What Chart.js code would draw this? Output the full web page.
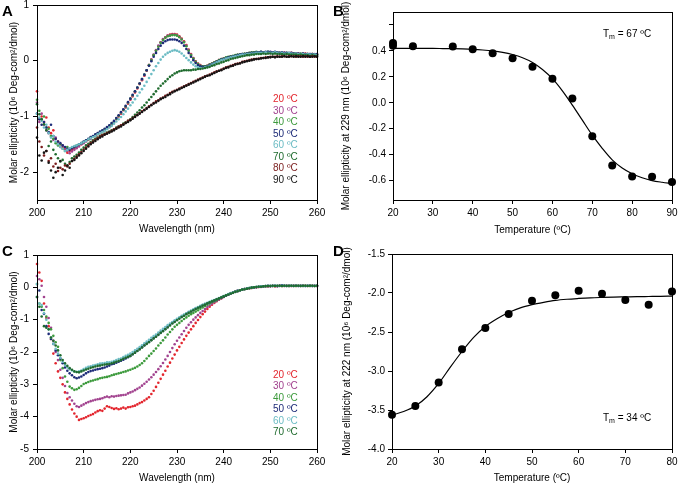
<!DOCTYPE html>
<html><head><meta charset="utf-8">
<script src="https://cdn.jsdelivr.net/npm/chart.js@4.4.1/dist/chart.umd.min.js"></script>
<style>
html,body{margin:0;padding:0;background:#fff;}
#wrap{position:relative;width:681px;height:484px;overflow:hidden;background:#fff;}
#wrap canvas{position:absolute;}
.lbl{position:absolute;font:bold 15px 'Liberation Sans',Arial,sans-serif;line-height:15px;color:#000;z-index:2;}
</style></head><body>
<div id="wrap">
<canvas id="cA" width="340" height="240" style="left:0;top:0;width:340px;height:240px"></canvas>
<canvas id="cB" width="341" height="240" style="left:340px;top:0;width:341px;height:240px"></canvas>
<canvas id="cC" width="340" height="244" style="left:0;top:240px;width:340px;height:244px"></canvas>
<canvas id="cD" width="341" height="244" style="left:340px;top:240px;width:341px;height:244px"></canvas>
<div class="lbl" style="left:2px;top:3px">A</div>
<div class="lbl" style="left:333px;top:3px">B</div>
<div class="lbl" style="left:2px;top:243px">C</div>
<div class="lbl" style="left:333px;top:243px">D</div>
</div>
<script>
// ---------- data ----------
const WAVELENGTHS = Array.from({length: 121}, (_, i) => 200 + i * 0.5);

const A_LABELS = ['20 ºC','30 ºC','40 ºC','50 ºC','60 ºC','70 ºC','80 ºC','90 ºC'];
const A_COLORS = ['#e3262e','#a2438f','#3c9a3c','#1d2b78','#6cbcc4','#1f6b2e','#7a1c1c','#141414'];

const A_20C = [
-0.55,-1.05,-1.00,-1.10,-1.02,-1.20,-1.30,-1.25,-1.40,-1.45,
-1.50,-1.55,-1.59,-1.65,-1.62,-1.60,-1.58,-1.55,-1.52,-1.50,
-1.47,-1.44,-1.42,-1.39,-1.37,-1.34,-1.32,-1.30,-1.27,-1.25,
-1.22,-1.19,-1.15,-1.10,-1.05,-1.00,-0.95,-0.89,-0.84,-0.77,
-0.70,-0.64,-0.57,-0.50,-0.42,-0.35,-0.27,-0.18,-0.08,0.02,
0.10,0.18,0.26,0.33,0.38,0.42,0.45,0.47,0.48,0.48,
0.47,0.44,0.40,0.35,0.28,0.20,0.12,0.05,-0.01,-0.05,
-0.08,-0.10,-0.10,-0.09,-0.07,-0.05,-0.03,-0.01,0.01,0.02,
0.04,0.05,0.06,0.07,0.08,0.09,0.10,0.11,0.11,0.12,
0.13,0.13,0.14,0.14,0.14,0.15,0.14,0.15,0.15,0.14,
0.15,0.14,0.15,0.14,0.13,0.14,0.14,0.13,0.13,0.14,
0.12,0.13,0.13,0.12,0.12,0.13,0.12,0.11,0.12,0.11,
0.11];
const A_30C = [
-0.75,-1.10,-0.95,-1.15,-1.25,-1.30,-1.35,-1.42,-1.38,-1.50,
-1.55,-1.52,-1.60,-1.62,-1.66,-1.63,-1.60,-1.57,-1.54,-1.50,
-1.48,-1.45,-1.41,-1.40,-1.36,-1.35,-1.31,-1.29,-1.27,-1.24,
-1.21,-1.18,-1.14,-1.10,-1.04,-0.99,-0.94,-0.88,-0.83,-0.76,
-0.69,-0.63,-0.56,-0.49,-0.41,-0.34,-0.26,-0.17,-0.08,0.02,
0.11,0.19,0.27,0.33,0.39,0.42,0.45,0.46,0.47,0.47,
0.46,0.43,0.39,0.34,0.27,0.19,0.11,0.04,-0.02,-0.06,
-0.09,-0.10,-0.10,-0.09,-0.07,-0.05,-0.03,-0.01,0.01,0.03,
0.04,0.05,0.06,0.08,0.08,0.09,0.10,0.11,0.12,0.12,
0.13,0.14,0.14,0.14,0.15,0.15,0.15,0.14,0.15,0.15,
0.14,0.15,0.14,0.14,0.14,0.13,0.14,0.13,0.14,0.13,
0.13,0.12,0.13,0.12,0.13,0.12,0.12,0.12,0.11,0.12,
0.11];
const A_40C = [
-0.70,-0.90,-1.05,-1.00,-1.20,-1.22,-1.35,-1.40,-1.48,-1.52,
-1.50,-1.58,-1.62,-1.55,-1.58,-1.56,-1.55,-1.52,-1.50,-1.48,
-1.46,-1.43,-1.41,-1.38,-1.36,-1.33,-1.31,-1.28,-1.26,-1.23,
-1.20,-1.17,-1.13,-1.09,-1.04,-0.99,-0.93,-0.88,-0.82,-0.75,
-0.68,-0.62,-0.55,-0.48,-0.41,-0.33,-0.25,-0.17,-0.08,0.01,
0.10,0.18,0.25,0.32,0.37,0.41,0.44,0.45,0.46,0.46,
0.45,0.42,0.38,0.33,0.26,0.18,0.10,0.04,-0.02,-0.06,
-0.09,-0.10,-0.10,-0.09,-0.07,-0.05,-0.03,-0.01,0.01,0.03,
0.04,0.06,0.07,0.08,0.09,0.10,0.11,0.11,0.12,0.13,
0.13,0.14,0.15,0.15,0.16,0.15,0.16,0.15,0.15,0.16,
0.15,0.15,0.14,0.15,0.14,0.14,0.13,0.14,0.13,0.13,
0.13,0.13,0.12,0.13,0.12,0.12,0.12,0.11,0.12,0.11,
0.11];
const A_50C = [
-0.95,-1.05,-1.15,-1.10,-1.20,-1.28,-1.15,-1.35,-1.40,-1.45,
-1.48,-1.52,-1.55,-1.58,-1.60,-1.57,-1.55,-1.53,-1.50,-1.48,
-1.45,-1.43,-1.40,-1.37,-1.35,-1.32,-1.30,-1.27,-1.25,-1.22,
-1.19,-1.16,-1.12,-1.08,-1.03,-0.98,-0.92,-0.87,-0.81,-0.74,
-0.68,-0.61,-0.55,-0.48,-0.41,-0.33,-0.25,-0.17,-0.09,-0.01,
0.07,0.14,0.21,0.27,0.32,0.35,0.37,0.38,0.38,0.38,
0.37,0.35,0.32,0.27,0.21,0.14,0.07,0.01,-0.04,-0.08,
-0.10,-0.11,-0.11,-0.10,-0.08,-0.06,-0.04,-0.02,0.00,0.02,
0.03,0.05,0.06,0.07,0.08,0.09,0.10,0.11,0.12,0.12,
0.13,0.13,0.14,0.14,0.15,0.15,0.16,0.15,0.16,0.16,
0.16,0.15,0.16,0.15,0.14,0.15,0.14,0.14,0.13,0.14,
0.13,0.13,0.13,0.12,0.13,0.12,0.12,0.12,0.12,0.11,
0.12];
const A_60C = [
-0.95,-1.02,-1.08,-1.20,-1.15,-1.30,-1.38,-1.35,-1.45,-1.50,
-1.55,-1.58,-1.62,-1.60,-1.57,-1.55,-1.53,-1.52,-1.50,-1.48,
-1.46,-1.44,-1.41,-1.39,-1.37,-1.35,-1.32,-1.30,-1.28,-1.26,
-1.23,-1.20,-1.17,-1.13,-1.09,-1.05,-1.01,-0.96,-0.91,-0.86,
-0.80,-0.75,-0.69,-0.63,-0.57,-0.51,-0.45,-0.38,-0.31,-0.24,
-0.17,-0.10,-0.04,0.02,0.07,0.11,0.14,0.16,0.18,0.19,
0.18,0.16,0.13,0.09,0.05,0.01,-0.03,-0.07,-0.10,-0.12,
-0.13,-0.13,-0.12,-0.11,-0.09,-0.07,-0.05,-0.03,-0.01,0.01,
0.02,0.04,0.05,0.06,0.07,0.08,0.09,0.10,0.11,0.11,
0.12,0.12,0.13,0.13,0.14,0.14,0.14,0.14,0.15,0.14,
0.14,0.14,0.15,0.14,0.13,0.14,0.13,0.13,0.14,0.13,
0.12,0.13,0.12,0.12,0.12,0.11,0.12,0.11,0.11,0.11,
0.10];
const A_70C = [
-0.78,-0.96,-1.05,-1.14,-1.25,-1.53,-1.45,-1.60,-1.68,-1.75,
-1.81,-1.78,-1.85,-1.88,-1.82,-1.75,-1.72,-1.69,-1.65,-1.60,
-1.56,-1.52,-1.49,-1.46,-1.43,-1.40,-1.38,-1.35,-1.33,-1.31,
-1.29,-1.27,-1.25,-1.23,-1.20,-1.18,-1.16,-1.13,-1.11,-1.08,
-1.05,-1.01,-0.97,-0.93,-0.89,-0.84,-0.80,-0.75,-0.70,-0.65,
-0.60,-0.55,-0.50,-0.45,-0.41,-0.37,-0.33,-0.29,-0.26,-0.23,
-0.21,-0.19,-0.18,-0.17,-0.17,-0.17,-0.17,-0.16,-0.16,-0.15,
-0.15,-0.14,-0.13,-0.12,-0.11,-0.09,-0.08,-0.06,-0.05,-0.03,
-0.02,0.00,0.01,0.03,0.04,0.05,0.06,0.07,0.08,0.09,
0.10,0.10,0.11,0.11,0.12,0.12,0.12,0.13,0.12,0.13,
0.13,0.12,0.13,0.12,0.12,0.12,0.11,0.12,0.11,0.11,
0.11,0.11,0.10,0.11,0.10,0.10,0.10,0.09,0.10,0.09,
0.09];
const A_80C = [
-1.20,-1.45,-1.55,-1.70,-1.62,-1.80,-1.75,-1.90,-1.85,-1.98,
-1.92,-1.95,-1.88,-1.90,-1.85,-1.80,-1.76,-1.72,-1.68,-1.64,
-1.60,-1.56,-1.52,-1.48,-1.45,-1.42,-1.39,-1.36,-1.34,-1.32,
-1.30,-1.28,-1.26,-1.23,-1.21,-1.18,-1.16,-1.14,-1.11,-1.08,
-1.06,-1.03,-1.00,-0.97,-0.94,-0.91,-0.88,-0.85,-0.82,-0.79,
-0.76,-0.73,-0.71,-0.68,-0.66,-0.63,-0.61,-0.58,-0.56,-0.54,
-0.52,-0.50,-0.48,-0.46,-0.44,-0.42,-0.40,-0.38,-0.36,-0.34,
-0.32,-0.30,-0.28,-0.27,-0.25,-0.23,-0.21,-0.19,-0.18,-0.16,
-0.14,-0.12,-0.11,-0.09,-0.08,-0.06,-0.05,-0.04,-0.02,-0.01,
0.00,0.01,0.02,0.03,0.03,0.04,0.05,0.05,0.06,0.06,
0.07,0.07,0.07,0.08,0.07,0.08,0.08,0.07,0.08,0.08,
0.08,0.07,0.08,0.08,0.07,0.08,0.07,0.07,0.08,0.07,
0.07];
const A_90C = [
-1.38,-1.70,-1.79,-1.65,-1.62,-1.83,-1.97,-2.10,-2.00,-1.92,
-1.80,-2.05,-1.97,-1.88,-1.92,-1.80,-1.78,-1.74,-1.70,-1.66,
-1.62,-1.58,-1.54,-1.50,-1.47,-1.44,-1.41,-1.38,-1.36,-1.33,
-1.31,-1.29,-1.27,-1.25,-1.22,-1.20,-1.18,-1.15,-1.12,-1.10,
-1.07,-1.04,-1.01,-0.98,-0.95,-0.92,-0.89,-0.86,-0.83,-0.80,
-0.77,-0.75,-0.72,-0.69,-0.67,-0.65,-0.62,-0.60,-0.57,-0.55,
-0.53,-0.51,-0.49,-0.47,-0.45,-0.43,-0.41,-0.39,-0.37,-0.35,
-0.33,-0.31,-0.29,-0.27,-0.26,-0.24,-0.22,-0.20,-0.18,-0.17,
-0.15,-0.13,-0.12,-0.10,-0.09,-0.07,-0.06,-0.05,-0.03,-0.02,
-0.01,0.00,0.01,0.02,0.03,0.03,0.04,0.05,0.05,0.06,
0.06,0.07,0.06,0.07,0.07,0.07,0.08,0.07,0.07,0.08,
0.07,0.08,0.07,0.07,0.08,0.07,0.08,0.07,0.07,0.08,
0.07];

const C_LABELS = ['20 ºC','30 ºC','40 ºC','50 ºC','60 ºC','70 ºC'];
const C_COLORS = ['#e3262e','#a2438f','#3c9a3c','#1d2b78','#6cbcc4','#1f6b2e'];

const C_20C = [
0.72,0.46,0.20,-0.50,-0.95,-1.20,-1.60,-2.05,-2.35,-2.60,
-2.80,-3.00,-3.25,-3.45,-3.62,-3.78,-3.90,-4.00,-4.10,-4.07,
-4.05,-4.02,-3.98,-3.95,-3.92,-3.87,-3.83,-3.80,-3.82,-3.75,
-3.68,-3.70,-3.73,-3.76,-3.74,-3.77,-3.75,-3.72,-3.75,-3.71,
-3.70,-3.68,-3.66,-3.62,-3.58,-3.55,-3.50,-3.45,-3.40,-3.30,
-3.20,-3.08,-2.95,-2.83,-2.70,-2.58,-2.45,-2.33,-2.20,-2.08,
-1.95,-1.84,-1.72,-1.61,-1.50,-1.40,-1.30,-1.20,-1.10,-1.01,
-0.92,-0.83,-0.75,-0.67,-0.60,-0.54,-0.48,-0.43,-0.38,-0.34,
-0.30,-0.26,-0.22,-0.19,-0.16,-0.13,-0.11,-0.09,-0.07,-0.05,
-0.04,-0.03,-0.02,-0.01,0.00,0.01,0.02,0.02,0.03,0.03,
0.04,0.04,0.03,0.04,0.05,0.04,0.04,0.05,0.04,0.04,
0.05,0.04,0.05,0.04,0.05,0.05,0.04,0.05,0.04,0.05,
0.04];
const C_30C = [
0.35,0.25,0.05,-0.30,-0.60,-0.95,-1.25,-1.65,-2.00,-2.25,
-2.55,-2.80,-3.05,-3.27,-3.40,-3.50,-3.60,-3.68,-3.70,-3.66,
-3.62,-3.58,-3.55,-3.52,-3.50,-3.48,-3.46,-3.45,-3.43,-3.40,
-3.38,-3.40,-3.37,-3.38,-3.36,-3.35,-3.34,-3.33,-3.32,-3.28,
-3.25,-3.22,-3.18,-3.14,-3.10,-3.04,-2.98,-2.92,-2.85,-2.78,
-2.70,-2.62,-2.53,-2.44,-2.34,-2.23,-2.12,-2.00,-1.88,-1.76,
-1.65,-1.55,-1.45,-1.35,-1.25,-1.16,-1.08,-1.00,-0.93,-0.86,
-0.79,-0.73,-0.67,-0.61,-0.56,-0.51,-0.46,-0.42,-0.38,-0.34,
-0.30,-0.26,-0.22,-0.19,-0.16,-0.13,-0.11,-0.09,-0.07,-0.05,
-0.04,-0.03,-0.02,-0.01,0.00,0.01,0.01,0.02,0.03,0.03,
0.03,0.04,0.04,0.03,0.04,0.05,0.04,0.04,0.05,0.04,
0.04,0.05,0.04,0.05,0.04,0.04,0.05,0.04,0.05,0.04,
0.05];
const C_40C = [
0.10,-0.50,-0.60,-0.70,-0.90,-1.10,-1.30,-1.50,-1.70,-1.84,
-2.25,-2.50,-2.76,-2.92,-3.07,-3.12,-3.17,-3.15,-3.11,-3.05,
-2.99,-2.96,-2.93,-2.90,-2.88,-2.86,-2.84,-2.81,-2.80,-2.78,
-2.77,-2.75,-2.72,-2.70,-2.68,-2.66,-2.64,-2.62,-2.60,-2.57,
-2.55,-2.52,-2.49,-2.45,-2.40,-2.35,-2.28,-2.20,-2.12,-2.05,
-1.97,-1.89,-1.80,-1.72,-1.64,-1.55,-1.46,-1.38,-1.30,-1.22,
-1.16,-1.10,-1.04,-0.98,-0.93,-0.88,-0.83,-0.79,-0.75,-0.71,
-0.66,-0.62,-0.58,-0.54,-0.50,-0.46,-0.43,-0.40,-0.36,-0.32,
-0.28,-0.25,-0.22,-0.19,-0.16,-0.13,-0.11,-0.09,-0.07,-0.05,
-0.04,-0.02,-0.01,0.00,0.01,0.02,0.02,0.03,0.03,0.04,
0.04,0.04,0.05,0.04,0.05,0.04,0.05,0.05,0.04,0.05,
0.05,0.04,0.05,0.05,0.04,0.05,0.05,0.04,0.05,0.04,
0.05];
const C_50C = [
-0.30,-0.10,-0.70,-0.82,-1.20,-1.44,-1.60,-1.75,-1.95,-2.10,
-2.20,-2.35,-2.48,-2.58,-2.66,-2.72,-2.78,-2.81,-2.79,-2.76,
-2.71,-2.66,-2.62,-2.59,-2.57,-2.55,-2.53,-2.52,-2.50,-2.48,
-2.45,-2.42,-2.38,-2.36,-2.33,-2.30,-2.27,-2.24,-2.20,-2.16,
-2.12,-2.07,-2.02,-1.96,-1.90,-1.85,-1.79,-1.73,-1.68,-1.63,
-1.57,-1.52,-1.46,-1.40,-1.34,-1.28,-1.22,-1.16,-1.10,-1.05,
-1.00,-0.95,-0.91,-0.86,-0.82,-0.78,-0.74,-0.70,-0.66,-0.62,
-0.59,-0.55,-0.52,-0.49,-0.46,-0.43,-0.40,-0.37,-0.34,-0.31,
-0.28,-0.25,-0.22,-0.19,-0.16,-0.14,-0.11,-0.09,-0.07,-0.05,
-0.04,-0.02,-0.01,0.00,0.01,0.02,0.03,0.03,0.04,0.05,
0.04,0.05,0.05,0.04,0.05,0.06,0.05,0.05,0.04,0.05,
0.05,0.05,0.04,0.05,0.05,0.04,0.05,0.05,0.04,0.05,
0.04];
const C_60C = [
0.10,-0.50,-0.55,-0.80,-1.00,-1.30,-1.55,-1.75,-1.90,-2.05,
-2.18,-2.30,-2.40,-2.48,-2.53,-2.57,-2.60,-2.62,-2.60,-2.57,
-2.53,-2.49,-2.46,-2.44,-2.42,-2.40,-2.38,-2.36,-2.35,-2.34,
-2.32,-2.32,-2.30,-2.28,-2.25,-2.22,-2.20,-2.16,-2.12,-2.09,
-2.05,-2.00,-1.95,-1.90,-1.85,-1.79,-1.73,-1.68,-1.62,-1.56,
-1.51,-1.46,-1.40,-1.34,-1.28,-1.23,-1.17,-1.12,-1.07,-1.02,
-0.97,-0.93,-0.88,-0.84,-0.80,-0.76,-0.72,-0.68,-0.64,-0.61,
-0.57,-0.54,-0.51,-0.48,-0.45,-0.42,-0.39,-0.36,-0.33,-0.30,
-0.27,-0.24,-0.21,-0.18,-0.16,-0.13,-0.11,-0.09,-0.07,-0.05,
-0.03,-0.02,-0.01,0.00,0.01,0.02,0.03,0.03,0.04,0.04,
0.05,0.04,0.05,0.05,0.04,0.05,0.05,0.04,0.05,0.05,
0.04,0.05,0.05,0.04,0.05,0.04,0.05,0.05,0.04,0.05,
0.05];
const C_70C = [
-0.30,-0.60,-0.90,-1.20,-1.25,-1.30,-1.55,-1.65,-1.80,-1.95,
-2.10,-2.25,-2.35,-2.43,-2.50,-2.55,-2.60,-2.62,-2.63,-2.60,
-2.57,-2.54,-2.52,-2.49,-2.47,-2.45,-2.43,-2.42,-2.40,-2.39,
-2.38,-2.37,-2.35,-2.33,-2.30,-2.28,-2.25,-2.21,-2.18,-2.15,
-2.12,-2.07,-2.02,-1.97,-1.92,-1.86,-1.80,-1.75,-1.70,-1.64,
-1.58,-1.53,-1.47,-1.41,-1.36,-1.30,-1.24,-1.18,-1.12,-1.07,
-1.02,-0.97,-0.92,-0.88,-0.83,-0.79,-0.75,-0.71,-0.67,-0.63,
-0.60,-0.56,-0.53,-0.49,-0.46,-0.43,-0.40,-0.37,-0.34,-0.31,
-0.28,-0.25,-0.22,-0.19,-0.17,-0.14,-0.12,-0.09,-0.07,-0.06,
-0.04,-0.03,-0.01,0.00,0.01,0.02,0.02,0.03,0.04,0.04,
0.04,0.05,0.04,0.05,0.05,0.04,0.05,0.04,0.05,0.05,
0.04,0.05,0.05,0.04,0.05,0.05,0.04,0.05,0.05,0.04,
0.05];

const B_TEMPS  = [20, 20, 25, 35, 40, 45, 50, 55, 60, 65, 70, 75, 80, 85, 90];
const B_VALUES = [0.46, 0.44, 0.436, 0.434, 0.413, 0.382, 0.343, 0.277, 0.186, 0.033, -0.258, -0.483, -0.568, -0.571, -0.612];
const B_FIT_TEMPS = [20,22.5,25,27.5,30,32.5,35,37.5,40,42.5,45,47.5,50,52.5,55,57.5,60,62.5,65,67.5,70,72.5,75,77.5,80,82.5,85,87.5,90];
const B_FIT = [0.420,0.420,0.420,0.419,0.419,0.418,0.417,0.415,0.412,0.407,0.400,0.389,0.372,0.347,0.311,0.257,0.186,0.092,-0.018,-0.134,-0.250,-0.351,-0.440,-0.503,-0.547,-0.578,-0.600,-0.613,-0.623];
const B_TM = '67 ºC';

const D_TEMPS  = [20, 25, 30, 35, 40, 45, 50, 55, 60, 65, 70, 75, 80];
const D_VALUES = [-3.56, -3.45, -3.146, -2.72, -2.45, -2.27, -2.10, -2.03, -1.97, -2.01, -2.09, -2.15, -1.98];
const D_FIT_TEMPS = [20,22.5,25,27.5,30,32.5,35,37.5,40,42.5,45,47.5,50,52.5,55,57.5,60,62.5,65,67.5,70,72.5,75,77.5,80];
const D_FIT = [-3.565,-3.52,-3.45,-3.33,-3.16,-2.95,-2.75,-2.57,-2.43,-2.33,-2.25,-2.19,-2.15,-2.12,-2.095,-2.08,-2.07,-2.062,-2.057,-2.053,-2.05,-2.047,-2.045,-2.043,-2.04];
const D_TM = '34 ºC';

const WL_TICKS = [200, 210, 220, 230, 240, 250, 260];
const A_YTICKS = [-2, -1, 0, 1];
const C_YTICKS = [-5, -4, -3, -2, -1, 0, 1];
const B_XTICKS = [20, 30, 40, 50, 60, 70, 80, 90];
const B_YTICKS = [-0.6, -0.4, -0.2, 0, 0.2, 0.4, 0.6];
const B_YLABELS = ['-0.6', '-0.4', '-0.2', '0.0', '0.2', '0.4', ''];
const D_XTICKS = [20, 30, 40, 50, 60, 70, 80];
const D_YTICKS = [-4, -3.5, -3, -2.5, -2, -1.5];
const D_YLABELS = ['-4.0', '-3.5', '-3.0', '-2.5', '-2.0', '-1.5'];

const TITLE_WL = 'Wavelength (nm)';
const TITLE_T = 'Temperature (ºC)';
const TITLE_ME = 'Molar ellipticity (10\u2076 Deg-com\u00B2/dmol)';
const TITLE_B = 'Molar ellipticity at 229 nm (10\u2076 Deg-com\u00B2/dmol)';
const TITLE_D = 'Molar ellipticity at 222 nm (10\u2076 Deg-com\u00B2/dmol)';

// ---------- rendering ----------
const FONT = "'Liberation Sans', Arial, 'DejaVu Sans', sans-serif";
Chart.defaults.font.family = FONT;
Chart.defaults.font.size = 10;
Chart.defaults.color = '#000';

const annot = {
  id: 'annot',
  afterDatasetsDraw(chart, args, opts) {
    const ctx = chart.ctx, a = chart.chartArea;
    const al = v => Math.round(v - 0.5) + 0.5;
    ctx.save();
    ctx.strokeStyle = '#000';
    ctx.lineWidth = 1;
    ctx.strokeRect(al(a.left), al(a.top), al(a.right) - al(a.left), al(a.bottom) - al(a.top));
    if (opts.legend) {
      ctx.font = '10px ' + FONT;
      ctx.textBaseline = 'middle';
      ctx.textAlign = 'left';
      chart.data.datasets.forEach((ds, i) => {
        ctx.fillStyle = ds.pointBackgroundColor;
        ctx.fillText(ds.label, opts.legend.x, opts.legend.y + i * opts.legend.dy);
      });
    }
    if (opts.tm) {
      const {x, y, text} = opts.tm;
      ctx.fillStyle = '#000';
      ctx.textAlign = 'left';
      ctx.textBaseline = 'alphabetic';
      const base = y + 3.5;
      ctx.font = '10px ' + FONT;
      ctx.fillText('T', x, base);
      let cx = x + ctx.measureText('T').width;
      ctx.font = '7px ' + FONT;
      ctx.fillText('m', cx, base + 2);
      cx += ctx.measureText('m').width;
      ctx.font = '10px ' + FONT;
      ctx.fillText(' = ' + text, cx, base);
    }
    ctx.restore();
  }
};

function scales(o) {
  const f = {family: FONT, size: 10};
  return {
    x: {
      type: 'linear', min: o.xMin, max: o.xMax,
      afterBuildTicks: s => { s.ticks = o.xTicks.map(v => ({value: v})); },
      ticks: {padding: 3, color: '#000', font: f, autoSkip: false, maxRotation: 0,
              callback: (v, i) => String(o.xTicks[i])},
      grid: {drawOnChartArea: false, drawTicks: true, tickLength: 4, color: '#000'},
      border: {display: true, color: '#000'},
      title: {display: true, text: o.xTitle, color: '#000', font: f, padding: {top: 0, bottom: o.xTitlePad}},
      afterFit: s => { s.height = o.xH; s.paddingLeft = 0; s.paddingRight = 0; }
    },
    y: {
      type: 'linear', min: o.yMin, max: o.yMax,
      afterBuildTicks: s => { s.ticks = o.yTicks.map(v => ({value: v})); },
      ticks: {padding: o.yTickPad, color: '#000', font: f, autoSkip: false,
              callback: (v, i) => o.yLabels ? o.yLabels[i] : String(o.yTicks[i])},
      grid: {drawOnChartArea: false, drawTicks: true, tickLength: 4, color: '#000'},
      border: {display: true, color: '#000'},
      title: {display: true, text: o.yTitle, color: '#000', font: f, padding: {top: o.yTitlePad, bottom: 0}},
      afterFit: s => { s.width = o.yW; s.paddingTop = 0; s.paddingBottom = 0; }
    }
  };
}

function spectra(series, labels, colors) {
  return series.map((arr, i) => ({
    label: labels[i],
    data: WAVELENGTHS.map((x, k) => ({x, y: arr[k]})),
    pointRadius: 1.3,
    pointBorderWidth: 0,
    pointBackgroundColor: colors[i],
    backgroundColor: colors[i],
    borderColor: colors[i],
    showLine: false,
    clip: false,
    order: series.length - i
  }));
}

function base(padding, sc, annotOpts) {
  return {
    responsive: false, animation: false, devicePixelRatio: 1,
    layout: {padding},
    scales: sc,
    plugins: {legend: {display: false}, tooltip: {enabled: false}, annot: annotOpts}
  };
}

new Chart(document.getElementById('cA'), {
  type: 'scatter',
  data: {datasets: spectra([A_20C, A_30C, A_40C, A_50C, A_60C, A_70C, A_80C, A_90C], A_LABELS, A_COLORS)},
  options: base({left: 0, top: 5, right: 23, bottom: 0},
    scales({xMin: 200, xMax: 260, xTicks: WL_TICKS, xTitle: TITLE_WL, xTitlePad: 5, xH: 40,
            yMin: -2.5, yMax: 1, yTicks: A_YTICKS, yTitle: TITLE_ME, yTitlePad: 8, yW: 37, yTickPad: 4}),
    {legend: {x: 273, y: 99.3, dy: 11.5}}),
  plugins: [annot]
});

new Chart(document.getElementById('cC'), {
  type: 'scatter',
  data: {datasets: spectra([C_20C, C_30C, C_40C, C_50C, C_60C, C_70C], C_LABELS, C_COLORS)},
  options: base({left: 0, top: 15, right: 23, bottom: 0},
    scales({xMin: 200, xMax: 260, xTicks: WL_TICKS, xTitle: TITLE_WL, xTitlePad: 0, xH: 35,
            yMin: -5, yMax: 1, yTicks: C_YTICKS, yTitle: TITLE_ME, yTitlePad: 8, yW: 37, yTickPad: 4}),
    {legend: {x: 273, y: 135, dy: 11.5}}),
  plugins: [annot]
});

function meltSets(temps, vals, fitT, fit) {
  return [
    {label: 'data', data: temps.map((x, i) => ({x, y: vals[i]})), pointRadius: 4, pointBorderWidth: 0,
     pointBackgroundColor: '#000', backgroundColor: '#000', borderColor: '#000', showLine: false, clip: false, order: 0},
    {label: 'fit', data: fitT.map((x, i) => ({x, y: fit[i]})), pointRadius: 0, borderWidth: 1.2,
     borderColor: '#000', showLine: true, cubicInterpolationMode: 'monotone', clip: false, order: 1}
  ];
}

new Chart(document.getElementById('cB'), {
  type: 'scatter',
  data: {datasets: meltSets(B_TEMPS, B_VALUES, B_FIT_TEMPS, B_FIT)},
  options: base({left: 0, top: 12, right: 9, bottom: 0},
    scales({xMin: 20, xMax: 90, xTicks: B_XTICKS, xTitle: TITLE_T, xTitlePad: 4, xH: 40,
            yMin: -0.75, yMax: 0.7, yTicks: B_YTICKS, yLabels: B_YLABELS, yTitle: TITLE_B, yTitlePad: 0, yW: 53, yTickPad: 3}),
    {tm: {x: 263, y: 33, text: B_TM}}),
  plugins: [annot]
});

new Chart(document.getElementById('cD'), {
  type: 'scatter',
  data: {datasets: meltSets(D_TEMPS, D_VALUES, D_FIT_TEMPS, D_FIT)},
  options: base({left: 0, top: 14, right: 9, bottom: 0},
    scales({xMin: 20, xMax: 80, xTicks: D_XTICKS, xTitle: TITLE_T, xTitlePad: 0, xH: 35,
            yMin: -4, yMax: -1.5, yTicks: D_YTICKS, yLabels: D_YLABELS, yTitle: TITLE_D, yTitlePad: 1, yW: 52, yTickPad: 3}),
    {tm: {x: 263, y: 177, text: D_TM}}),
  plugins: [annot]
});
</script>
</body></html>
